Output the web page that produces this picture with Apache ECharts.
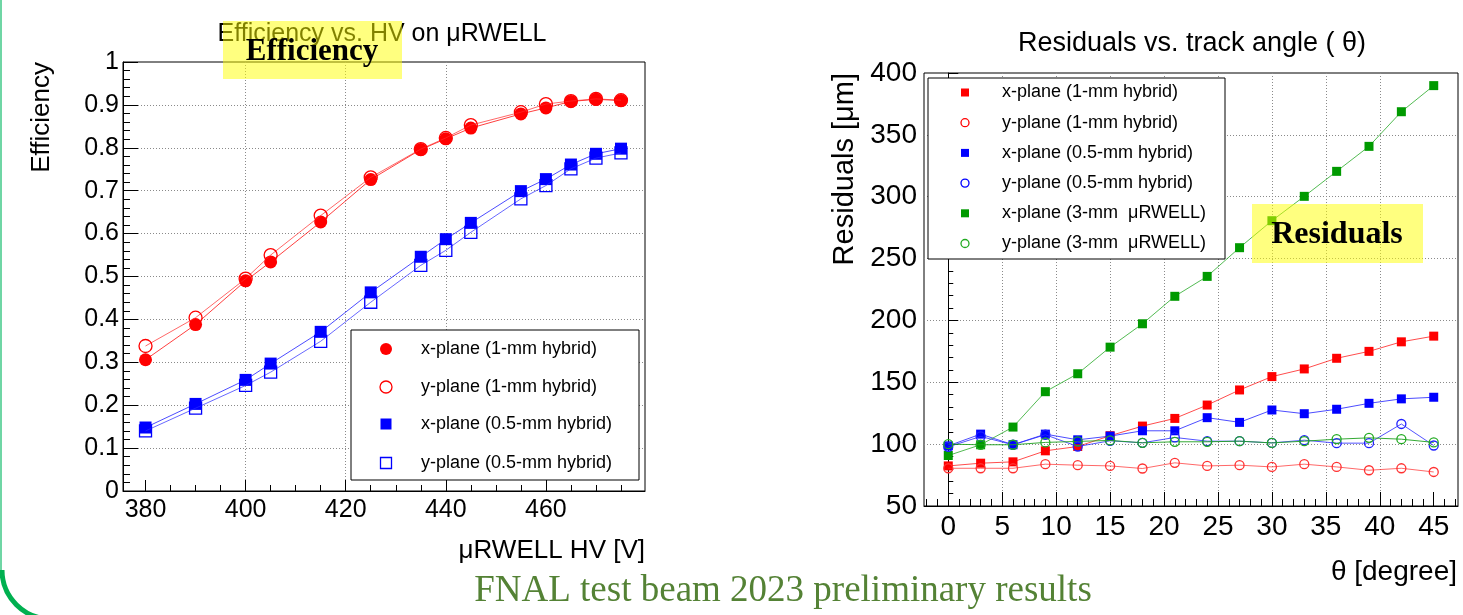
<!DOCTYPE html>
<html>
<head>
<meta charset="utf-8">
<title>uRWELL efficiency and residuals</title>
<script src="https://cdn.jsdelivr.net/npm/echarts@6/dist/echarts.min.js"></script>
<style>
  html, body { margin: 0; padding: 0; background: #fff; }
  #chart { width: 1463px; height: 615px; }
</style>
</head>
<body>
<div id="chart"></div>
<script>
// ---- left: efficiency vs HV ----
var hv = [380, 390, 400, 405, 415, 425, 435, 440, 445, 455, 460, 465, 470, 475];
var effX1mm = [0.306, 0.388, 0.490, 0.534, 0.627, 0.726, 0.796, 0.821, 0.846, 0.879, 0.893, 0.908, 0.913, 0.910];
var effY1mm = [0.338, 0.404, 0.495, 0.550, 0.642, 0.731, 0.797, 0.823, 0.853, 0.883, 0.902, 0.909, 0.914, 0.911];
var effX05mm = [0.148, 0.203, 0.259, 0.297, 0.371, 0.463, 0.546, 0.587, 0.625, 0.699, 0.727, 0.761, 0.786, 0.798];
var effY05mm = [0.140, 0.193, 0.246, 0.277, 0.349, 0.440, 0.526, 0.561, 0.603, 0.681, 0.712, 0.751, 0.776, 0.788];
var hvMajorTicks = [380, 400, 420, 440, 460];
var hvMinorTicks = [385, 390, 395, 405, 410, 415, 425, 430, 435, 445, 450, 455, 465, 470, 475];
var effLegend = ["x-plane (1-mm hybrid)", "y-plane (1-mm hybrid)", "x-plane (0.5-mm hybrid)", "y-plane (0.5-mm hybrid)"];

// ---- right: residuals vs track angle ----
var theta = [0, 3, 6, 9, 12, 15, 18, 21, 24, 27, 30, 33, 36, 39, 42, 45];
var resX1mm = [82.4, 84.6, 85.7, 94.6, 98.1, 106.8, 114.6, 120.8, 131.6, 143.8, 154.6, 160.8, 169.4, 175.0, 182.7, 187.3];
var resY1mm = [80.5, 80.5, 80.5, 83.8, 83.0, 82.4, 80.3, 84.9, 82.4, 83.0, 81.6, 83.8, 81.6, 78.9, 80.5, 77.5];
var resX05mm = [98.6, 108.1, 99.5, 108.1, 103.5, 106.5, 110.8, 110.8, 121.4, 117.6, 127.6, 124.6, 128.2, 133.0, 136.6, 137.9];
var resY05mm = [97.8, 106.2, 99.5, 107.6, 98.1, 102.7, 101.1, 105.4, 102.4, 102.4, 101.0, 103.2, 100.8, 100.8, 116.3, 98.9];
var resX3mm = [90.8, 99.5, 113.8, 142.4, 156.9, 178.4, 197.3, 219.5, 235.6, 258.8, 280.6, 300.3, 320.5, 340.7, 368.7, 389.8];
var resY3mm = [100.0, 99.5, 99.5, 101.4, 102.2, 103.0, 101.1, 101.9, 101.9, 102.4, 101.0, 102.4, 104.0, 105.1, 104.0, 101.4];
var thetaMajorTicks = [0, 5, 10, 15, 20, 25, 30, 35, 40, 45];
var thetaMinorTicks = [-2, -1, 1, 2, 3, 4, 6, 7, 8, 9, 11, 12, 13, 14, 16, 17, 18, 19, 21, 22, 23, 24,
  26, 27, 28, 29, 31, 32, 33, 34, 36, 37, 38, 39, 41, 42, 43, 44, 46, 47];
var resLegend = ["x-plane (1-mm hybrid)", "y-plane (1-mm hybrid)", "x-plane (0.5-mm hybrid)",
  "y-plane (0.5-mm hybrid)", "x-plane (3-mm  \u03bcRWELL)", "y-plane (3-mm  \u03bcRWELL)"];

var FONT = '"Liberation Sans", Arial, Helvetica, sans-serif';
var SERIF = '"Liberation Serif", "Times New Roman", serif';
var RED = "#ff0000", BLUE = "#0000ff", GREEN = "#009a00";

function pts(xs, ys) {
  return xs.map(function (x, i) { return [x, ys[i]]; });
}

// one TGraph-like series
function graph(name, xs, ys, axis, symbol, size, color, lineColor, open) {
  return {
    name: name,
    type: "line",
    xAxisIndex: axis,
    yAxisIndex: axis === 0 ? 0 : 1,
    data: pts(xs, ys),
    symbol: symbol,
    symbolSize: size,
    showSymbol: true,
    lineStyle: { color: lineColor, width: 1 },
    itemStyle: open
      ? { color: "rgba(0,0,0,0)", borderColor: color, borderWidth: 1.3 }
      : { color: color, borderWidth: 0 },
    emphasis: { disabled: true },
    z: open ? 4 : 3
  };
}

function majorAxis(grid, min, max, ticks, tickLen, fontSize) {
  return {
    gridIndex: grid, type: "value", position: "bottom", min: min, max: max,
    axisLine: { show: true, onZero: false, lineStyle: { color: "#000", width: 1 } },
    axisTick: { show: true, inside: true, length: tickLen, customValues: ticks, lineStyle: { color: "#000" } },
    axisLabel: { customValues: ticks, margin: 7, color: "#000", fontFamily: FONT, fontSize: fontSize },
    splitNumber: 10,
    splitLine: { show: true, showMinLine: false, showMaxLine: false, lineStyle: { color: "#8a8a8a", type: [1, 2] } }
  };
}
function minorAxis(grid, min, max, ticks, tickLen) {
  return {
    gridIndex: grid, type: "value", position: "bottom", min: min, max: max,
    axisLine: { show: false },
    axisTick: { show: true, inside: true, length: tickLen, customValues: ticks, lineStyle: { color: "#000" } },
    axisLabel: { show: false },
    splitLine: { show: false }
  };
}

// legend drawn like a ROOT TLegend
function legendBox(x, y, w, h) {
  return { type: "rect", shape: { x: x, y: y, width: w, height: h }, z: 10,
    style: { fill: "#fff", stroke: "#000", lineWidth: 1 } };
}
function legendMark(kind, cx, cy, size, color) {
  var open = kind.indexOf("open") === 0;
  var style = open ? { fill: "none", stroke: color, lineWidth: 1.3 } : { fill: color };
  if (kind.indexOf("circle") >= 0) {
    return { type: "circle", shape: { cx: cx, cy: cy, r: size / 2 }, style: style, z: 11 };
  }
  return { type: "rect", shape: { x: cx - size / 2, y: cy - size / 2, width: size, height: size }, style: style, z: 11 };
}
function legendText(label, x, y, size) {
  return { type: "text", x: x, y: y, z: 11,
    style: { text: label, font: size + "px " + FONT, fill: "#000", textAlign: "left", verticalAlign: "middle" } };
}

var graphics = [];
// slide frame on the left
graphics.push({ type: "line", shape: { x1: 1, y1: 0, x2: 1, y2: 570 }, style: { stroke: "#6fd6a5", lineWidth: 2 } });
graphics.push({ type: "arc", shape: { cx: 51, cy: 570, r: 49, startAngle: Math.PI / 2, endAngle: Math.PI, clockwise: true },
  style: { stroke: "#00b050", lineWidth: 5, fill: "none" } });

// left legend
var effKinds = ["circle", "opencircle", "rect", "openrect"];
var effColors = [RED, RED, BLUE, BLUE];
var effSizes = [12, 12, 11, 11];
graphics.push(legendBox(351, 330, 288, 150));
var effRows = [349, 387, 424, 463];
effLegend.forEach(function (label, i) {
  graphics.push(legendMark(effKinds[i], 386, effRows[i], effSizes[i], effColors[i]));
  graphics.push(legendText(label, 421, effRows[i], 18));
});

// right legend
var resKinds = ["rect", "opencircle", "rect", "opencircle", "rect", "opencircle"];
var resColors = [RED, RED, BLUE, BLUE, GREEN, "#22aa22"];
graphics.push(legendBox(928, 78, 297, 181));
resLegend.forEach(function (label, i) {
  var y = 92.5 + i * 30.2;
  graphics.push(legendMark(resKinds[i], 965, y, 8, resColors[i]));
  graphics.push(legendText(label, 1002, y, 18));
});

// titles and axis titles
function label(text, x, y, font, align, rot, fill) {
  return { type: "text", x: x, y: y, rotation: rot || 0, z: 12,
    style: { text: text, font: font, fill: fill || "#000", textAlign: align, verticalAlign: "middle" } };
}
graphics.push(label("Efficiency vs. HV on \u03bcRWELL", 382, 34, "25px " + FONT, "center"));
graphics.push(label("Residuals vs. track angle ( \u03b8)", 1192, 44, "27px " + FONT, "center"));
graphics.push(label("Efficiency", 42, 62, "26px " + FONT, "right", Math.PI / 2));
graphics.push(label("Residuals [\u03bcm]", 845, 73, "29px " + FONT, "right", Math.PI / 2));
graphics.push(label("\u03bcRWELL HV [V]", 645, 551, "26px " + FONT, "right"));
graphics.push(label("\u03b8 [degree]", 1457, 572, "28px " + FONT, "right"));

// yellow highlight boxes
graphics.push({ type: "rect", shape: { x: 223, y: 21, width: 179, height: 58 }, z: 20,
  style: { fill: "rgba(255,255,0,0.5)" } });
graphics.push(label("Efficiency", 312, 52, "bold 31px " + SERIF, "center"));
graphics[graphics.length - 1].z = 21;
graphics.push({ type: "rect", shape: { x: 1252, y: 204, width: 171, height: 59 }, z: 20,
  style: { fill: "rgba(255,255,0,0.5)" } });
graphics.push(label("Residuals", 1337, 235, "bold 32px " + SERIF, "center"));
graphics[graphics.length - 1].z = 21;

// footer
graphics.push(label("FNAL test beam 2023 preliminary results", 783, 591, "37px " + SERIF, "center", 0, "#548235"));

var chart = echarts.init(document.getElementById("chart"));
chart.setOption({
  animation: false,
  backgroundColor: "#fff",
  grid: [
    { left: 123, top: 62, width: 522, height: 429, show: true, borderColor: "#000", borderWidth: 1, backgroundColor: "#fff" },
    { left: 924, top: 73, width: 534, height: 433, show: true, borderColor: "#000", borderWidth: 1, backgroundColor: "#fff" }
  ],
  xAxis: [
    majorAxis(0, 375.5, 479.8, hvMajorTicks, 11, 25),
    minorAxis(0, 375.5, 479.8, hvMinorTicks, 6),
    majorAxis(1, -2.25, 47.25, thetaMajorTicks, 14, 28),
    minorAxis(1, -2.25, 47.25, thetaMinorTicks, 7)
  ],
  yAxis: [
    {
      gridIndex: 0, type: "value", min: 0, max: 1, interval: 0.1,
      axisLine: { show: true, lineStyle: { color: "#000" } },
      axisTick: { inside: true, length: 15, lineStyle: { color: "#000" } },
      minorTick: { show: true, splitNumber: 5, length: 7, lineStyle: { color: "#000" } },
      axisLabel: { margin: 4, color: "#000", fontFamily: FONT, fontSize: 25 },
      splitLine: { show: true, showMinLine: false, showMaxLine: false, lineStyle: { color: "#8a8a8a", type: [1, 2] } }
    },
    {
      gridIndex: 1, type: "value", min: 50, max: 400, interval: 50,
      axisLine: { show: true, lineStyle: { color: "#000" } },
      axisTick: { inside: true, length: 10, lineStyle: { color: "#000" } },
      minorTick: { show: true, splitNumber: 5, length: 5, lineStyle: { color: "#000" } },
      axisLabel: { margin: 7, color: "#000", fontFamily: FONT, fontSize: 28 },
      splitLine: { show: true, showMinLine: false, showMaxLine: false, lineStyle: { color: "#8a8a8a", type: [1, 2] } }
    }
  ],
  series: [
    graph(effLegend[0], hv, effX1mm, 0, "circle", 13, RED, "rgba(255,0,0,0.75)", false),
    graph(effLegend[1], hv, effY1mm, 0, "circle", 13, RED, "rgba(255,40,40,0.7)", true),
    graph(effLegend[2], hv, effX05mm, 0, "rect", 12, BLUE, "rgba(0,0,255,0.7)", false),
    graph(effLegend[3], hv, effY05mm, 0, "rect", 12, BLUE, "rgba(40,40,255,0.7)", true),
    graph(resLegend[0], theta, resX1mm, 2, "rect", 9, RED, "rgba(255,0,0,0.7)", false),
    graph(resLegend[1], theta, resY1mm, 2, "circle", 9, "#ff3030", "rgba(255,40,40,0.7)", true),
    graph(resLegend[2], theta, resX05mm, 2, "rect", 9, BLUE, "rgba(0,0,255,0.7)", false),
    graph(resLegend[3], theta, resY05mm, 2, "circle", 9, "#2020ff", "rgba(40,40,255,0.8)", true),
    graph(resLegend[4], theta, resX3mm, 2, "rect", 9, GREEN, "rgba(40,170,40,0.8)", false),
    graph(resLegend[5], theta, resY3mm, 2, "circle", 9, "#22aa22", "rgba(30,160,30,0.9)", true)
  ],
  graphic: graphics
});
</script>
</body>
</html>
